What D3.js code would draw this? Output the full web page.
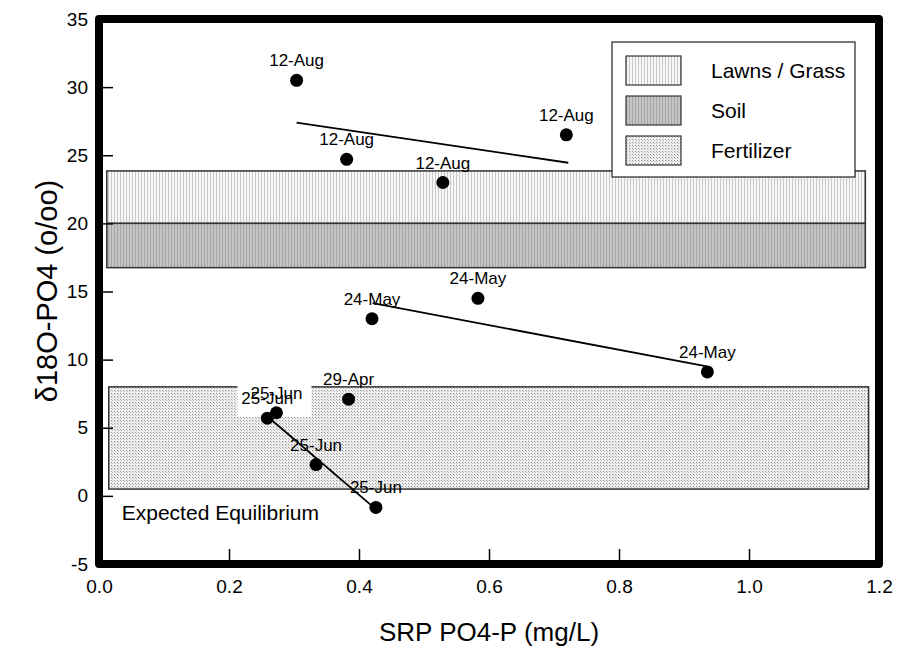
<!DOCTYPE html>
<head>
  <meta charset="utf-8">
  <script src="https://d3js.org/d3.v7.min.js"></script>
  <style>
    body { margin:0; background:#fff; }
    text { font-family: "Liberation Sans", Arial, sans-serif; fill:#000; }
  </style>
</head>
<body>
<div id=figure></div>
<script>
// points: SRP (mg/L), d18O (o/oo), date label
var srp   = [0.304, 0.381, 0.529, 0.719, 0.420, 0.583, 0.936, 0.384, 0.259, 0.273, 0.334, 0.426];
var d18o  = [30.5, 24.7, 23.0, 26.5, 13.0, 14.5, 9.1, 7.1, 5.7, 6.1, 2.3, -0.85];
var dates = ["12-Aug","12-Aug","12-Aug","12-Aug","24-May","24-May","24-May","29-Apr","25-Jun","25-Jun","25-Jun","25-Jun"];

// trend lines, each [x1, y1, x2, y2]
var trends = [
  [0.304, 27.4, 0.722, 24.45],
  [0.421, 14.15, 0.935, 9.5],
  [0.266, 5.55, 0.419, -0.7]
];

// source bands
var bandNames = ["Lawns / Grass", "Soil", "Fertilizer"];
var bandX0 = [0.012, 0.012, 0.015];
var bandX1 = [1.179, 1.179, 1.184];
var bandY0 = [20.0, 16.75, 0.5];
var bandY1 = [23.85, 20.0, 8.0];

var xTicks = [0, 0.2, 0.4, 0.6, 0.8, 1.0, 1.2];
var yTicks = [-5, 0, 5, 10, 15, 20, 25, 30, 35];

var W = 898, H = 659;
var svg = d3.select("#figure").append("svg")
  .attr("width", W).attr("height", H);

var defs = svg.append("defs");
// lawn: light vertical hatch
var p1 = defs.append("pattern").attr("id","lawn").attr("patternUnits","userSpaceOnUse")
  .attr("width",3).attr("height",3);
p1.append("rect").attr("width",3).attr("height",3).attr("fill","#f7f7f7");
p1.append("rect").attr("width",1).attr("height",3).attr("fill","#c9c9c9");
// soil: darker vertical hatch
var p2 = defs.append("pattern").attr("id","soil").attr("patternUnits","userSpaceOnUse")
  .attr("width",3).attr("height",3);
p2.append("rect").attr("width",3).attr("height",3).attr("fill","#c4c4c4");
p2.append("rect").attr("width",1).attr("height",3).attr("fill","#a6a6a6");
// fertilizer: fine dots
var p3 = defs.append("pattern").attr("id","fert").attr("patternUnits","userSpaceOnUse")
  .attr("width",3).attr("height",3);
p3.append("rect").attr("width",3).attr("height",3).attr("fill","#efefef");
p3.append("rect").attr("width",1).attr("height",1).attr("fill","#959595");
p3.append("rect").attr("x",1).attr("y",1).attr("width",1).attr("height",1).attr("fill","#bababa");
var fills = ["url(#lawn)", "url(#soil)", "url(#fert)"];

var x = d3.scaleLinear().domain([0, 1.2]).range([99, 879]);
var y = d3.scaleLinear().domain([-5, 35]).range([564, 19]);

// bands
svg.selectAll(".band").data(bandNames).enter().append("rect")
  .attr("class","band")
  .attr("x", function(d,i){ return x(bandX0[i]); })
  .attr("width", function(d,i){ return x(bandX1[i]) - x(bandX0[i]); })
  .attr("y", function(d,i){ return y(bandY1[i]); })
  .attr("height", function(d,i){ return y(bandY0[i]) - y(bandY1[i]); })
  .attr("fill", function(d,i){ return fills[i]; })
  .attr("stroke","#333").attr("stroke-width",1.5);

svg.append("text")
  .attr("x", x(0.035)).attr("y", y(-1.75))
  .style("font-size","21px")
  .text("Expected Equilibrium");

// axes
var yAxis = d3.axisLeft(y).tickValues(yTicks).tickFormat(function(d){ return String(d); })
  .tickSizeInner(-14).tickSizeOuter(0).tickPadding(11);
var gy = svg.append("g").attr("transform","translate(99,0)").call(yAxis);
gy.select(".domain").remove();
gy.selectAll("line").attr("stroke","#000").attr("stroke-width",1.5);
gy.selectAll("text").style("font-size","19px").attr("font-family",null);

var xAxis = d3.axisBottom(x).tickValues(xTicks).tickFormat(d3.format(".1f"))
  .tickSizeInner(-15).tickSizeOuter(0).tickPadding(16);
var gx = svg.append("g").attr("transform","translate(0,564)").call(xAxis);
gx.select(".domain").remove();
gx.selectAll("line").attr("stroke","#000").attr("stroke-width",1.5);
gx.selectAll("text").style("font-size","19px").attr("font-family",null);

// white box behind overlapping 25-Jun labels
svg.append("rect")
  .attr("x", x(srp[9]) - 39).attr("y", y(d18o[9]) - 28)
  .attr("width", 74).attr("height", 32)
  .attr("fill","#fff");

// trend lines
svg.selectAll(".trend").data(trends).enter().append("line")
  .attr("class","trend")
  .attr("x1", function(d){ return x(d[0]); })
  .attr("y1", function(d){ return y(d[1]); })
  .attr("x2", function(d){ return x(d[2]); })
  .attr("y2", function(d){ return y(d[3]); })
  .attr("stroke","#000").attr("stroke-width",1.8);

// labels
svg.selectAll(".lbl").data(dates).enter().append("text")
  .attr("class","lbl")
  .attr("x", function(d,i){ return x(srp[i]); })
  .attr("y", function(d,i){ return y(d18o[i]) - 14; })
  .attr("text-anchor","middle")
  .style("font-size","17px")
  .text(function(d){ return d; });

// points
svg.selectAll(".dot").data(dates).enter().append("circle")
  .attr("class","dot")
  .attr("cx", function(d,i){ return x(srp[i]); })
  .attr("cy", function(d,i){ return y(d18o[i]); })
  .attr("r", 6.5)
  .attr("fill","#000");

// frame
svg.append("rect")
  .attr("x",99).attr("y",19).attr("width",780).attr("height",545)
  .attr("fill","none").attr("stroke","#000").attr("stroke-width",8)
  .attr("stroke-linejoin","round");

// legend
var lg = svg.append("g").attr("transform","translate(612,42)");
lg.append("rect").attr("width",243).attr("height",135)
  .attr("fill","#fff").attr("stroke","#222").attr("stroke-width",1.2);
var items = lg.selectAll(".legend").data(bandNames).enter().append("g")
  .attr("class","legend")
  .attr("transform", function(d,i){ return "translate(14," + (14 + i*40) + ")"; });
items.append("rect").attr("width",55).attr("height",29)
  .attr("fill", function(d,i){ return fills[i]; })
  .attr("stroke","#333").attr("stroke-width",1.2);
items.append("text").attr("x",85).attr("y",22)
  .style("font-size","21px")
  .text(function(d){ return d; });

// axis titles
svg.append("text")
  .attr("transform","translate(57,291) rotate(-90)")
  .attr("text-anchor","middle")
  .style("font-size","29px")
  .text("\u03b418O-PO4 (o/oo)");

svg.append("text")
  .attr("x",489).attr("y",641)
  .attr("text-anchor","middle")
  .style("font-size","26px")
  .text("SRP PO4-P (mg/L)");
</script>
</body>
